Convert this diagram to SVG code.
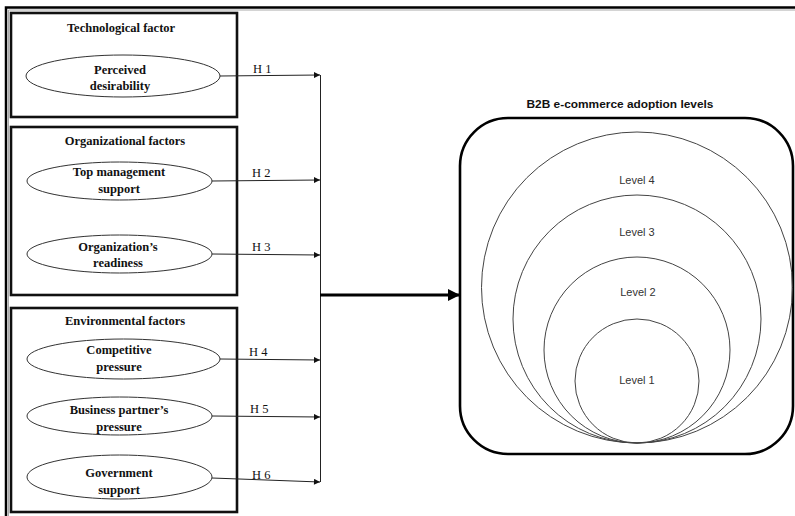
<svg xmlns="http://www.w3.org/2000/svg" width="795" height="516" viewBox="0 0 795 516">
<style>
.frame{fill:none;stroke:#000;stroke-width:2.5}
.box{fill:#fff;stroke:#111;stroke-width:2.6}
.ell{fill:#fff;stroke:#333;stroke-width:1}
.bt{font-family:"Liberation Serif",serif;font-weight:bold;font-size:12.5px;fill:#111;text-anchor:middle}
.ht{font-family:"Liberation Serif",serif;font-size:12.5px;fill:#111}
.conn{fill:none;stroke:#222;stroke-width:1}
.thick{fill:none;stroke:#000;stroke-width:3.2}
.circ{fill:none;stroke:#444;stroke-width:1}
.lv{font-family:"Liberation Sans",sans-serif;font-size:11px;fill:#333;text-anchor:middle}
.ttl{font-family:"Liberation Sans",sans-serif;font-weight:bold;font-size:11px;fill:#111;text-anchor:middle}
</style>
<defs>
<marker id="ah" viewBox="0 0 10 10" refX="10" refY="5" markerWidth="7" markerHeight="6" markerUnits="userSpaceOnUse" orient="auto"><path d="M0,0 L10,5 L0,10 z" fill="#111"/></marker>
<marker id="ahb" viewBox="0 0 10 10" refX="10" refY="5" markerWidth="12" markerHeight="12" markerUnits="userSpaceOnUse" orient="auto"><path d="M0,0 L10,5 L0,10 z" fill="#000"/></marker>
</defs>
<path class="frame" d="M6,516 V7.5 H795"/>
<path d="M8.5,516 V10 H795" fill="none" stroke="#aaa" stroke-width="1"/>

<g id="tech">
<rect class="box" x="11" y="13" width="226" height="104"/>
<text class="bt" x="121" y="32">Technological  factor</text>
<g id="perceived">
<ellipse class="ell" cx="123" cy="76" rx="97" ry="21"/>
<text class="bt" x="120" y="74">Perceived</text>
<text class="bt" x="120" y="90">desirability</text>
</g>
</g>

<g id="org">
<rect class="box" x="11" y="127" width="226" height="168"/>
<text class="bt" x="125" y="145">Organizational  factors</text>
<g id="topmgmt">
<ellipse class="ell" cx="119.5" cy="181" rx="92.5" ry="19"/>
<text class="bt" x="119" y="176">Top management</text>
<text class="bt" x="119" y="193">support</text>
</g>
<g id="readiness">
<ellipse class="ell" cx="119.5" cy="254" rx="92.5" ry="19"/>
<text class="bt" x="118" y="251">Organization’s</text>
<text class="bt" x="118" y="267">readiness</text>
</g>
</g>

<g id="env">
<rect class="box" x="11" y="308" width="226" height="204"/>
<text class="bt" x="125" y="325">Environmental  factors</text>
<g id="competitive">
<ellipse class="ell" cx="123.5" cy="359" rx="96.5" ry="20"/>
<text class="bt" x="119" y="354">Competitive</text>
<text class="bt" x="119" y="371">pressure</text>
</g>
<g id="partner">
<ellipse class="ell" cx="119.5" cy="416" rx="92.5" ry="19"/>
<text class="bt" x="119" y="414">Business partner’s</text>
<text class="bt" x="119" y="431">pressure</text>
</g>
<g id="government">
<ellipse class="ell" cx="119.5" cy="477" rx="92.5" ry="22"/>
<text class="bt" x="119" y="477">Government</text>
<text class="bt" x="119" y="494">support</text>
</g>
</g>

<g id="connectors">
<line class="conn" x1="220" y1="76" x2="320" y2="75" marker-end="url(#ah)"/>
<line class="conn" x1="212" y1="181" x2="320" y2="180" marker-end="url(#ah)"/>
<line class="conn" x1="212" y1="254" x2="320" y2="255" marker-end="url(#ah)"/>
<line class="conn" x1="220" y1="359" x2="320" y2="360" marker-end="url(#ah)"/>
<line class="conn" x1="212" y1="416" x2="320" y2="417" marker-end="url(#ah)"/>
<line class="conn" x1="212" y1="478" x2="320" y2="482" marker-end="url(#ah)"/>
<line class="conn" x1="320.5" y1="75" x2="320.5" y2="482"/>
<line class="thick" x1="320" y1="295" x2="460" y2="295" marker-end="url(#ahb)"/>
<text class="ht" x="253" y="73">H 1</text>
<text class="ht" x="252" y="177">H 2</text>
<text class="ht" x="252" y="251">H 3</text>
<text class="ht" x="249" y="356">H 4</text>
<text class="ht" x="250" y="413">H 5</text>
<text class="ht" x="252" y="479">H 6</text>
</g>

<g id="adoption">
<text class="ttl" x="620" y="108" textLength="187" lengthAdjust="spacingAndGlyphs">B2B e-commerce adoption levels</text>
<rect x="460" y="118" width="333" height="336" rx="48" ry="48" fill="none" stroke="#000" stroke-width="2.6"/>
<circle class="circ" cx="637" cy="287.5" r="155.5"/>
<circle class="circ" cx="637" cy="319" r="124"/>
<circle class="circ" cx="637" cy="350" r="93"/>
<circle class="circ" cx="637" cy="381" r="62"/>
<text class="lv" x="637" y="184">Level 4</text>
<text class="lv" x="637" y="236">Level 3</text>
<text class="lv" x="638" y="296">Level 2</text>
<text class="lv" x="637" y="384">Level 1</text>
</g>
</svg>
